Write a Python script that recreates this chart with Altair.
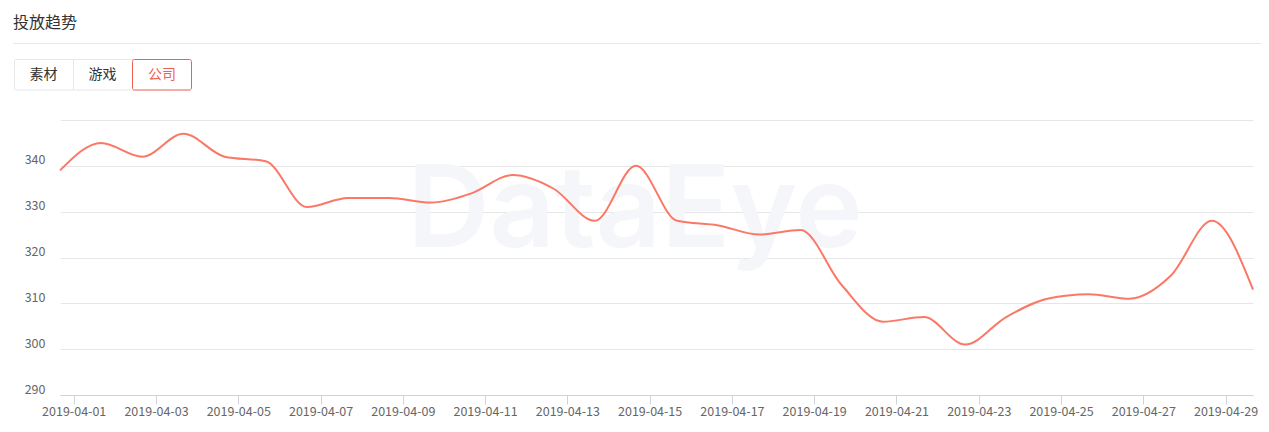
import altair as alt
import pandas as pd

# ---- data ----
dates = [
    "2019-04-01", "2019-04-02", "2019-04-03", "2019-04-04", "2019-04-05",
    "2019-04-06", "2019-04-07", "2019-04-08", "2019-04-09", "2019-04-10",
    "2019-04-11", "2019-04-12", "2019-04-13", "2019-04-14", "2019-04-15",
    "2019-04-16", "2019-04-17", "2019-04-18", "2019-04-19", "2019-04-20",
    "2019-04-21", "2019-04-22", "2019-04-23", "2019-04-24", "2019-04-25",
    "2019-04-26", "2019-04-27", "2019-04-28", "2019-04-29", "2019-04-30",
]
values = [
    339, 345, 342, 347, 342, 341, 331, 333, 333, 332,
    334, 338, 335, 328, 340, 328, 327, 325, 326, 314,
    306, 307, 301, 307, 311, 312, 311, 316, 328, 313,
]
tick_labels = [
    "2019-04-01", "2019-04-03", "2019-04-05", "2019-04-07", "2019-04-09",
    "2019-04-11", "2019-04-13", "2019-04-15", "2019-04-17", "2019-04-19",
    "2019-04-21", "2019-04-23", "2019-04-25", "2019-04-27", "2019-04-29",
]
y_ticks = [290, 300, 310, 320, 330, 340, 350]
title_text = "投放趋势"
tabs = ["素材", "游戏", "公司"]
watermark = "DataEye"

FONT = "Noto Sans CJK SC"
LINE_COLOR = "#fb7766"
RED = "#f2604f"

df = pd.DataFrame({
    "date": [d + "T00:00:00+08:00" for d in dates],
    "value": values,
})

tick_values = [
    alt.DateTime(year=int(t[:4]), month=int(t[5:7]), date=int(t[8:10]), utc=True)
    for t in tick_labels
]

one = pd.DataFrame({"k": [0]})

wm = alt.Chart(pd.DataFrame({"t": [watermark]})).mark_text(
    font="Inter", fontSize=114, fontWeight=600, color="#f5f6f9",
    align="center", baseline="alphabetic",
).encode(text="t:N", x=alt.value(575), y=alt.value(127))

line = alt.Chart(df).mark_line(
    color=LINE_COLOR, strokeWidth=2, interpolate="monotone"
).encode(
    x=alt.X(
        "date:T",
        scale=alt.Scale(type="utc", nice=False, padding=0),
        axis=alt.Axis(
            values=tick_values,
            labelExpr="utcFormat(datum.value, '%Y-%m-%d')",
            title=None, grid=False, tickSize=9, tickColor="#ccd3e3",
            domainColor="#ccd3e3", labelColor="#666666", labelFontSize=12.5,
            labelFont=FONT, labelPadding=1, labelAngle=0, labelFlush=False,
            labelOverlap=False,
        ),
    ),
    y=alt.Y(
        "value:Q",
        scale=alt.Scale(domain=[290, 350], nice=False, zero=False),
        axis=alt.Axis(
            values=y_ticks, labelExpr="datum.value == 350 ? '' : datum.label",
            title=None, ticks=False, domain=False, grid=True,
            gridColor="#e6e6e6", labelColor="#666666", labelFontSize=12.5,
            labelFont=FONT, labelPadding=15, labelBaseline="alphabetic",
            labelOffset=-2,
        ),
    ),
)

title = alt.Chart(pd.DataFrame({"t": [title_text]})).mark_text(
    font=FONT, fontSize=16, color="#333333", align="left", baseline="middle"
).encode(text="t:N", x=alt.value(-47), y=alt.value(-97))

sep = alt.Chart(one).mark_rule(color="#e8e8ec", strokeWidth=1).encode(
    x=alt.value(-47), x2=alt.value(1201), y=alt.value(-76.5)
)

group_box = alt.Chart(one).mark_rect(
    fill="#ffffff", stroke="#e4e6ea", strokeWidth=1, cornerRadius=2
).encode(x=alt.value(-45.5), x2=alt.value(131.5), y=alt.value(-60.5), y2=alt.value(-30))

divider = alt.Chart(one).mark_rule(color="#e4e6ea", strokeWidth=1).encode(
    x=alt.value(13.5), y=alt.value(-60.5), y2=alt.value(-30)
)

active_box = alt.Chart(one).mark_rect(
    fill="#ffffff", stroke=RED, strokeWidth=1, cornerRadius=2
).encode(x=alt.value(72.5), x2=alt.value(131.5), y=alt.value(-60.5), y2=alt.value(-30))

tab_layers = []
tab_centers = [-16.5, 42.5, 102]
for name, cx in zip(tabs, tab_centers):
    col = RED if name == "公司" else "#333333"
    tab_layers.append(
        alt.Chart(pd.DataFrame({"t": [name]})).mark_text(
            font=FONT, fontSize=14, color=col, align="center", baseline="middle"
        ).encode(text="t:N", x=alt.value(cx), y=alt.value(-45))
    )

chart = alt.layer(
    wm, line, title, sep, group_box, divider, active_box, *tab_layers
).properties(
    width=1193, height=275,
    padding={"left": 52, "top": 112, "right": 8, "bottom": 29},
    autosize=alt.AutoSizeParams(type="none"),
).configure(
    font=FONT, background="#ffffff", view=alt.ViewConfig(stroke=None)
)

chart.save("out.html", embed_options={"renderer": "svg", "actions": False})
